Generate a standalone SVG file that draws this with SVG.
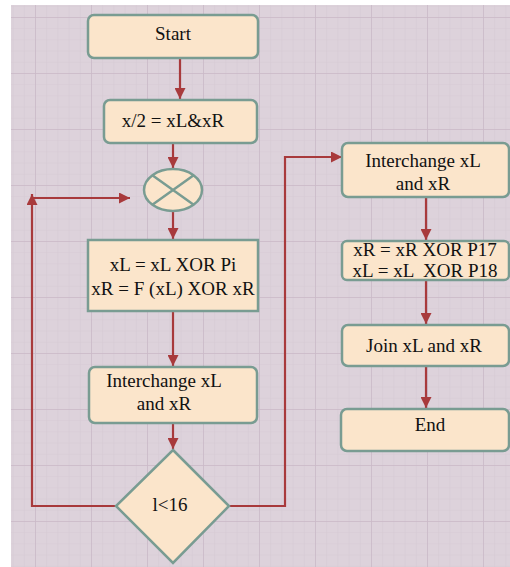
<svg xmlns="http://www.w3.org/2000/svg" width="510" height="567" viewBox="0 0 510 567">
<defs>
<pattern id="minor" patternUnits="userSpaceOnUse" x="35" y="17" width="11.2" height="11.2">
<path d="M0 0H11.2M0 0V11.2" fill="none" stroke="#d5c9d3" stroke-width="1"/>
</pattern>
<pattern id="major" patternUnits="userSpaceOnUse" x="35" y="17" width="56" height="56">
<path d="M0 0H56M0 0V56" fill="none" stroke="#cab9c7" stroke-width="1.5"/>
</pattern>
<marker id="ah" viewBox="0 0 10 10" refX="10" refY="5" markerWidth="5.5" markerHeight="5" orient="auto" markerUnits="strokeWidth">
<path d="M0 0L10 5L0 10Z" fill="#a83a3c"/>
</marker>
<style>
.box{fill:#fbe5cb;stroke:#799c92;stroke-width:2.5}
.t{font-family:"Liberation Serif","Times New Roman",serif;font-size:19px;fill:#111111;text-anchor:middle}
.c{fill:none;stroke:#a83a3c;stroke-width:2.2}
</style>
</defs>
<rect x="0" y="0" width="510" height="567" fill="#ffffff"/>
<rect x="11" y="5" width="499" height="562" fill="#ddd2db"/>
<rect x="11" y="5" width="499" height="562" fill="url(#minor)"/>
<rect x="11" y="5" width="499" height="562" fill="url(#major)"/>

<g id="connectors">
<path class="c" d="M180 58V99" marker-end="url(#ah)"/>
<path class="c" d="M173 143V168" marker-end="url(#ah)"/>
<path class="c" d="M173 212V239" marker-end="url(#ah)"/>
<path class="c" d="M173 311V366" marker-end="url(#ah)"/>
<path class="c" d="M173 423V449" marker-end="url(#ah)"/>
<path class="c" d="M116 506H32V194"  marker-end="url(#ah)"/>
<path class="c" d="M32 198H130" marker-end="url(#ah)"/>
<path class="c" d="M229 506H285V157H342" marker-end="url(#ah)"/>
<path class="c" d="M426 197V240" marker-end="url(#ah)"/>
<path class="c" d="M426 280V324" marker-end="url(#ah)"/>
<path class="c" d="M426 366V408" marker-end="url(#ah)"/>
</g>

<g id="start">
<rect class="box" x="88" y="15" width="170" height="43" rx="6"/>
<text class="t" x="173" y="40">Start</text>
</g>
<g id="split">
<rect class="box" x="104" y="100" width="153" height="43" rx="6"/>
<text class="t" x="173" y="127">x/2 = xL&amp;xR</text>
</g>
<g id="xor">
<ellipse class="box" cx="173" cy="190" rx="29" ry="21"/>
<path d="M152 175L194 205M152 205L194 175" stroke="#799c92" stroke-width="2.5" fill="none"/>
</g>
<g id="round">
<rect class="box" x="88" y="240" width="170" height="71"/>
<text class="t" x="173" y="271">xL = xL XOR Pi</text>
<text class="t" x="173" y="295">xR = F (xL) XOR xR</text>
</g>
<g id="swap1">
<rect class="box" x="89" y="367" width="168" height="56" rx="6"/>
<text class="t" x="164" y="387">Interchange xL</text>
<text class="t" x="164" y="410">and xR</text>
</g>
<g id="decision">
<polygon class="box" points="173,450 229,506 173,563 116,506"/>
<text class="t" x="170" y="511">l&lt;16</text>
</g>
<g id="swap2">
<rect class="box" x="342" y="143" width="167" height="54" rx="6"/>
<text class="t" x="423" y="167">Interchange xL</text>
<text class="t" x="423" y="190">and xR</text>
</g>
<g id="final">
<rect class="box" x="342" y="241" width="167" height="39" rx="5"/>
<text class="t" x="425" y="256">xR = xR XOR P17</text>
<text class="t" x="425" y="277" xml:space="preserve">xL = xL  XOR P18</text>
</g>
<g id="join">
<rect class="box" x="342" y="325" width="167" height="41" rx="6"/>
<text class="t" x="424" y="352">Join xL and xR</text>
</g>
<g id="end">
<rect class="box" x="341" y="409" width="168" height="42" rx="6"/>
<text class="t" x="430" y="431">End</text>
</g>
</svg>
